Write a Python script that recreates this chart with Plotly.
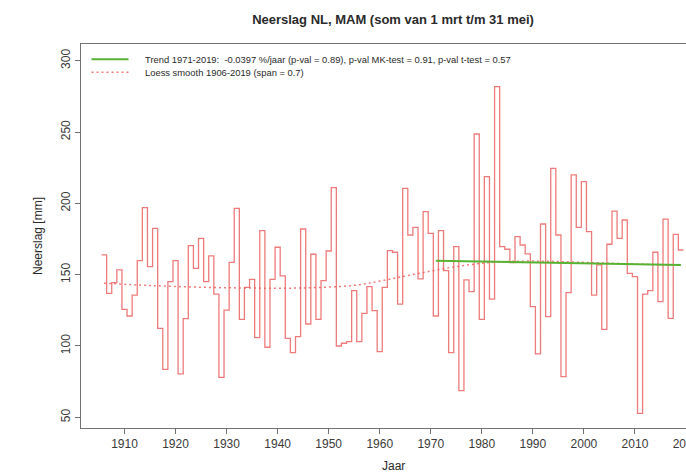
import plotly.graph_objects as go

# Spring (MAM) precipitation sums for the Netherlands, mm
years = list(range(1906, 2020))
precip_mm = [
    163.8, 136.9, 144.4, 153.3,
    125.7, 121.0, 135.7, 159.8, 197.0, 155.6, 182.5, 112.4, 83.6, 145.1,
    159.8, 80.4, 119.2, 170.3, 154.4, 175.5, 145.1, 163.1, 136.4, 78.0,
    125.2, 158.6, 196.5, 118.7, 141.1, 146.7, 105.8, 180.8, 99.1, 146.7,
    169.2, 149.1, 105.4, 95.3, 106.5, 182.0, 115.4, 164.3, 118.7, 145.8,
    166.6, 211.0, 100.0, 101.9, 103.0, 138.8, 103.0, 122.9, 141.6, 124.8,
    96.0, 141.1, 166.8, 165.7, 129.4, 210.5, 177.8, 183.2, 147.0, 194.2,
    179.0, 121.0, 180.8, 152.8, 95.3, 169.6, 68.7, 146.3, 138.1, 248.6,
    118.7, 218.7, 132.9, 281.8, 169.6, 167.8, 158.4, 176.6, 170.8, 164.5,
    127.6, 94.4, 185.5, 120.6, 224.5, 177.8, 78.5, 137.4, 219.9, 183.2,
    215.2, 180.1, 135.7, 156.8, 111.7, 171.3, 194.6, 175.5, 188.3, 150.9,
    148.6, 52.8, 136.4, 138.8, 165.7, 131.1, 189.0, 119.4, 178.3, 167.3,
]

# Loess smooth (span 0.7), sampled at selected years
loess_years = [1906, 1915, 1925, 1935, 1945, 1955, 1960, 1965, 1970,
               1975, 1980, 1985, 1990, 1995, 2000, 2005, 2010, 2019]
loess_mm = [144.0, 142.4, 141.2, 140.6, 140.7, 142.5, 145.5, 149.0, 152.5,
            155.6, 158.0, 159.2, 159.5, 159.2, 158.6, 158.0, 157.4, 156.8]

# Linear trend 1971-2019, expressed in % per year
trend_start, trend_end = 1971, 2019
trend_level_start = 159.8
trend_pct_per_year = -0.0397

x_ticks = list(range(1910, 2021, 10))
y_ticks = [50, 100, 150, 200, 250, 300]

title_text = "Neerslag NL, MAM (som van 1 mrt t/m 31 mei)"
legend_trend = ("Trend 1971-2019:  -0.0397 %/jaar (p-val = 0.89), "
                "p-val MK-test = 0.91, p-val t-test = 0.57")
legend_loess = "Loess smooth 1906-2019 (span = 0.7)"

RED = "rgba(232,72,72,0.72)"
RED_DOT = "rgba(236,90,90,0.8)"
GREEN = "#58b232"
FRAME = "#707070"
TEXT = "#2a2a2a"
TICK_TEXT = "#3a3a3a"
FONT = "Liberation Sans, Arial, sans-serif"

# centred steps: each year spans [year-0.5, year+0.5]
step_x = [y - 0.5 for y in years] + [years[-1] + 0.5]
step_y = precip_mm + [precip_mm[-1]]

trend_end_level = trend_level_start * (1 + trend_pct_per_year / 100 * (trend_end - trend_start))

fig = go.Figure()
fig.add_trace(go.Scatter(
    x=step_x, y=step_y, mode="lines", line_shape="hv",
    line=dict(color=RED, width=1.3), showlegend=False, hoverinfo="skip"))
fig.add_trace(go.Scatter(
    x=loess_years, y=loess_mm, mode="lines", line_shape="spline",
    line=dict(color=RED_DOT, width=1.5, dash="2px,3px"), showlegend=False))
fig.add_trace(go.Scatter(
    x=[trend_start, trend_end], y=[trend_level_start, trend_end_level],
    mode="lines", line=dict(color=GREEN, width=2), showlegend=False))

W, H = 686, 474
L, R, T, B = 81, 0, 44, 46
pw, ph = W - L - R, H - T - B


def px(x):
    return (x - L) / pw


def py(y):
    return (H - B - y) / ph


# legend samples and labels
fig.add_shape(type="line", xref="paper", yref="paper",
              x0=px(91.5), x1=px(128.5), y0=py(59.3), y1=py(59.3),
              line=dict(color=GREEN, width=2))
fig.add_shape(type="line", xref="paper", yref="paper",
              x0=px(91.5), x1=px(128.5), y0=py(72.3), y1=py(72.3),
              line=dict(color=RED_DOT, width=1.5, dash="2px,3px"))
for label, yy in [(legend_trend, 59.3), (legend_loess, 72.3)]:
    fig.add_annotation(text=label, xref="paper", yref="paper",
                       x=px(143), y=py(yy), xanchor="left", yanchor="middle",
                       showarrow=False, font=dict(size=9.4, color=TEXT, family=FONT))

# axis titles
fig.add_annotation(text="Jaar", xref="paper", yref="paper",
                   x=px(393), y=py(466), xanchor="center", yanchor="middle",
                   showarrow=False, font=dict(size=12, color=TEXT, family=FONT))
fig.add_annotation(text="Neerslag [mm]", xref="paper", yref="paper",
                   x=px(38), y=py(236), xanchor="center", yanchor="middle",
                   textangle=-90, showarrow=False,
                   font=dict(size=12, color=TEXT, family=FONT))

fig.update_layout(
    width=W, height=H,
    margin=dict(l=L, r=R, t=T, b=B, pad=0, autoexpand=False),
    paper_bgcolor="white", plot_bgcolor="white",
    font=dict(family=FONT, color=TEXT, size=12),
    title=dict(text="<b>" + title_text + "</b>", xref="paper", x=px(393),
               xanchor="center", y=1 - 19 / H, yanchor="middle",
               font=dict(size=13, color=TEXT, family=FONT)),
    showlegend=False,
)
fig.update_xaxes(
    range=[1901.48, 2020.0], tickvals=x_ticks, ticks="outside", ticklen=5,
    tickcolor=FRAME, showline=True, linecolor=FRAME, linewidth=1, mirror=True,
    showgrid=False, zeroline=False, ticklabeloverflow="allow", automargin=False,
    tickfont=dict(size=12, color=TICK_TEXT, family=FONT))
fig.update_yaxes(
    range=[42.5, 311.7], tickvals=y_ticks, ticks="outside", ticklen=5,
    tickcolor=FRAME, showline=True, linecolor=FRAME, linewidth=1,
    showgrid=False, zeroline=False, tickangle=-90, automargin=False,
    tickfont=dict(size=12, color=TICK_TEXT, family=FONT))

fig.write_html("out.html")
